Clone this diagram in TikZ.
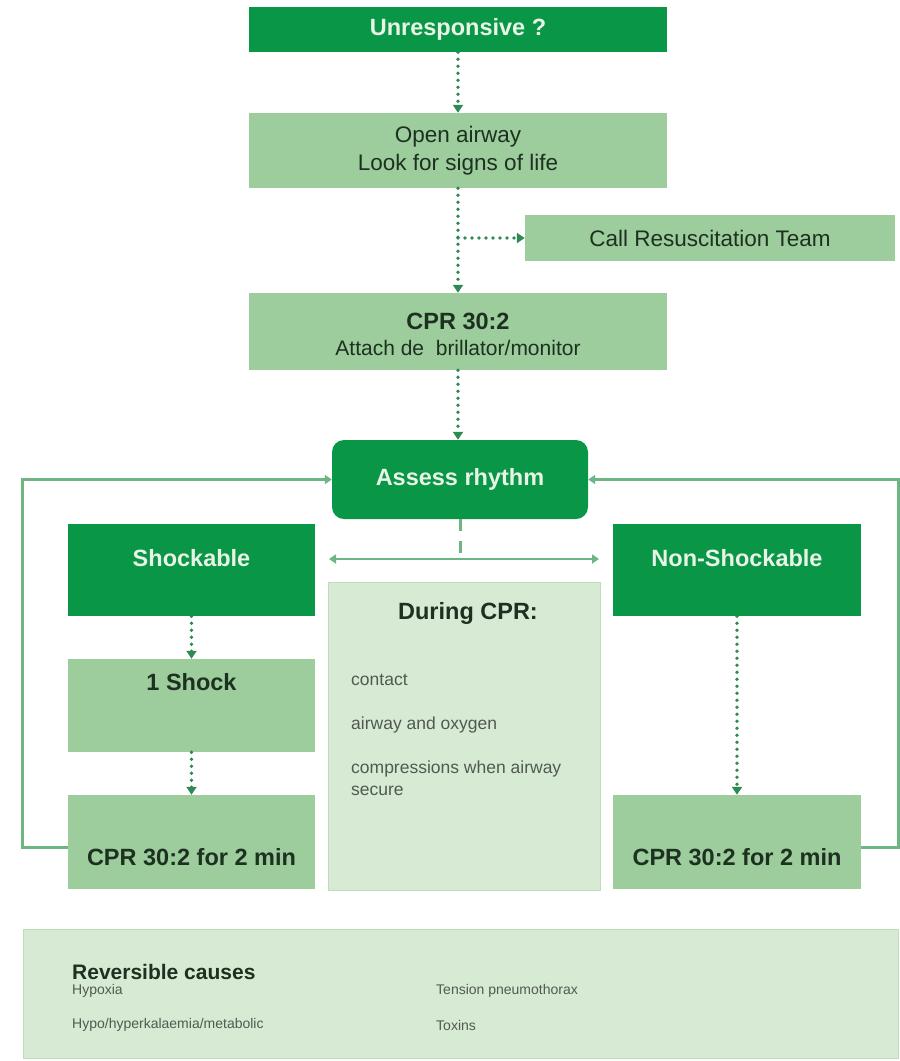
\documentclass[tikz,border=0pt]{standalone}
\usepackage{fontspec}
\setmainfont{Liberation Sans}
\usetikzlibrary{arrows.meta,calc}
\definecolor{dgreen}{HTML}{0A9647}
\definecolor{lgreen}{HTML}{9DCC9D}
\definecolor{pgreen}{HTML}{D7EBD4}
\definecolor{pborder}{HTML}{BFDDBC}
\definecolor{agreen}{HTML}{2C8A52}
\definecolor{mgreen}{HTML}{6DB582}
\definecolor{ltext}{HTML}{E8F5E6}
\definecolor{dtext}{HTML}{1D3120}
\definecolor{gtext}{HTML}{505A50}
\tikzset{
  darkbox/.style={fill=dgreen, draw=none, inner sep=0pt},
  lightbox/.style={fill=lgreen, draw=none, inner sep=0pt},
  palebox/.style={fill=pgreen, draw=pborder, line width=1pt, inner sep=0pt},
  bigbold/.style={font=\fontsize{23.5}{28}\selectfont\bfseries, inner sep=0pt},
  bigreg/.style={font=\fontsize{22.5}{28}\selectfont, inner sep=0pt},
  smalltxt/.style={font=\fontsize{17.5}{22}\selectfont, text=gtext, inner sep=0pt, anchor=west},
  tinytxt/.style={font=\fontsize{14}{17}\selectfont, text=gtext, inner sep=0pt, anchor=west},
  dotline/.style={draw=agreen, line width=3.6pt, dash pattern=on 0pt off 7pt, line cap=round,
    -{Triangle[length=8pt,width=10pt]}},
  loopline/.style={draw=mgreen, line width=3pt, -{Triangle[length=7pt,width=9pt]}},
}
\begin{document}
\begin{tikzpicture}[x=1pt,y=-1pt]
\useasboundingbox (0,0) rectangle (900,1061);

% boxes
\node[darkbox, minimum width=418pt, minimum height=45pt, bigbold, text=ltext] (unr) at (458,29.5) {Unresponsive ?};
\node[lightbox, minimum width=418pt, minimum height=75pt, bigreg, text=dtext, align=center] (oa) at (458,150.5) {Open airway\\Look for signs of life};
\node[lightbox, minimum width=370pt, minimum height=46pt, bigreg, text=dtext] (call) at (710,238) {Call Resuscitation Team};
\node[lightbox, minimum width=418pt, minimum height=77pt] (cpr) at (458,331.5) {};
\node[bigbold, text=dtext] (cprt1) at (458,321) {CPR 30:2};
\node[font=\fontsize{21}{26}\selectfont, text=dtext, inner sep=0pt] (cprt2) at (458,348) {Attach de\ \ brillator/monitor};
\node[darkbox, minimum width=256pt, minimum height=79pt, rounded corners=12pt, bigbold, text=ltext] (assess) at (460,479.5) {Assess rhythm};

\node[darkbox, minimum width=247pt, minimum height=92pt] (shock) at (191.5,570) {};
\node[bigbold, text=ltext] (shockt) at (191.5,558) {Shockable};
\node[darkbox, minimum width=248pt, minimum height=92pt] (nons) at (737,570) {};
\node[bigbold, text=ltext] (nonst) at (737,558) {Non-Shockable};

\node[lightbox, minimum width=247pt, minimum height=93pt] (one) at (191.5,705.5) {};
\node[bigbold, text=dtext] (onet) at (191.5,682) {1 Shock};
\node[lightbox, minimum width=247pt, minimum height=94pt] (cprL) at (191.5,842) {};
\node[bigbold, text=dtext] (cprLt) at (191.5,857) {CPR 30:2 for 2 min};
\node[lightbox, minimum width=248pt, minimum height=94pt] (cprR) at (737,842) {};
\node[bigbold, text=dtext] (cprRt) at (737,857) {CPR 30:2 for 2 min};

\node[palebox, minimum width=272pt, minimum height=308pt] (during) at (464,736) {};
\node[bigbold, text=dtext] (duringt) at (468,613) {During CPR:};
\node[smalltxt] (d1) at (351,680) {contact};
\node[smalltxt] (d2) at (351,725) {airway and oxygen};
\node[smalltxt] (d3) at (351,769) {compressions when airway};
\node[smalltxt] (d4) at (351,791) {secure};

\node[palebox, minimum width=875pt, minimum height=129pt] (rev) at (460.5,993.5) {};
\node[font=\fontsize{21}{24}\selectfont\bfseries, text=dtext, inner sep=0pt, anchor=west] (revt) at (72,972) {Reversible causes};
\node[tinytxt] (r1) at (72,991) {Hypoxia};
\node[tinytxt] (r2) at (436,991) {Tension pneumothorax};
\node[tinytxt] (r3) at (72,1025) {Hypo/hyperkalaemia/metabolic};
\node[tinytxt] (r4) at (436,1025) {Toxins};

% dotted connectors
\draw[dotline] (unr.south) -- (oa.north);
\draw[dotline] (oa.south) -- (cpr.north);
\coordinate (br) at (oa.south |- call.west);
\draw[dotline] (br) -- (call.west);
\draw[dotline] (cpr.south) -- (cpr.south |- assess.north);
\draw[dotline] (shock.south) -- (one.north);
\draw[dotline] (one.south) -- (cprL.north);
\draw[dotline] (nons.south) -- (cprR.north);

% loops
\draw[loopline] ([yshift=-5pt]cprL.west) -- ++(-45,0) |- (assess.west);
\draw[loopline] ([yshift=-5pt]cprR.east) -- ++(37,0) |- (assess.east);

% centre split
\coordinate (hl) at (329,559);
\coordinate (hr) at (599,559);
\coordinate (hm) at (assess.south |- hl);
\draw[mgreen, line width=3pt, dash pattern=on 12pt off 10pt] (assess.south) -- (hm);
\draw[mgreen, line width=2.5pt, {Triangle[length=7pt,width=9pt]}-{Triangle[length=7pt,width=9pt]}] (hl) -- (hr);
\end{tikzpicture}
\end{document}
